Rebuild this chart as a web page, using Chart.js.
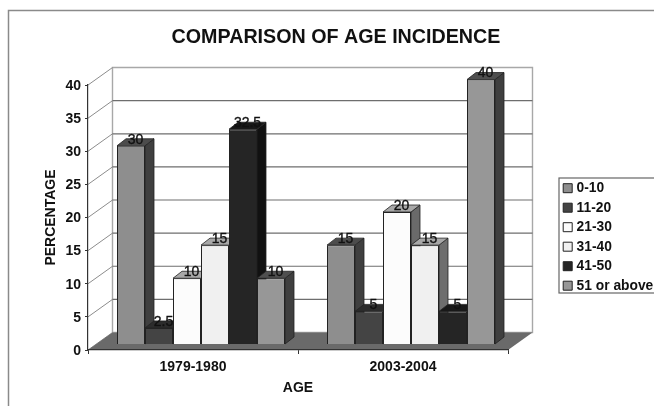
<!DOCTYPE html>
<html>
<head>
<meta charset="utf-8">
<script src="https://cdn.jsdelivr.net/npm/chart.js@4"></script>
<style>
  html, body { margin: 0; padding: 0; background: #fff; overflow: hidden; }
  canvas { display: block; }
</style>
</head>
<body>
<canvas id="chart" width="654" height="406"></canvas>
<script>
// data
const periods = ['1979-1980', '2003-2004']
const ageGroups = ['0-10', '11-20', '21-30', '31-40', '41-50', '51 or above']
const age0to10 = [30, 15]
const age11to20 = [2.5, 5]
const age21to30 = [10, 20]
const age31to40 = [15, 15]
const age41to50 = [32.5, 5]
const age51up = [10, 40]
const seriesValues = [age0to10, age11to20, age21to30, age31to40, age41to50, age51up]
const yTickStep = 5
const yMax = 40

// colours per series
const frontColors = ['#8e8e8e', '#444444', '#fcfcfc', '#f0f0f0', '#252525', '#979797']
const sideColors = ['#3f3f3f', '#262626', '#6a6a6a', '#6e6e6e', '#111111', '#3f3f3f']
const topColors = ['#4c4c4c', '#2c2c2c', '#a8a8a8', '#a8a8a8', '#181818', '#4f4f4f']

const FONT = '"Liberation Sans", Arial, sans-serif'
const INK = '#111111'

// 3D look: back wall offset, and where the bars stand on the floor
const wallDx = 24.5, wallDy = -17.5
const barDx = 8, barDy = -5.5
const depthDx = 9, depthDy = -7

function poly(ctx, pts, fill, stroke, lw) {
    ctx.beginPath()
    pts.forEach((p, i) => i ? ctx.lineTo(p[0], p[1]) : ctx.moveTo(p[0], p[1]))
    ctx.closePath()
    if (fill) { ctx.fillStyle = fill; ctx.fill() }
    if (stroke) { ctx.strokeStyle = stroke; ctx.lineWidth = lw || 1; ctx.stroke() }
}

const box3d = {
    id: 'box3d',
    afterLayout(chart) {
        // title is centred over the plot + legend gap, legend box sits lower right
        chart.titleBlock.left = 18
        chart.titleBlock.right = 654
        const l = chart.legend
        l.left = 560
        l.right = 654
        l.top = 175.6
        l.bottom = l.top + l.height
    },
    beforeDraw(chart) {
        const ctx = chart.ctx
        const { left, right } = chart.chartArea
        const y = chart.scales.y
        const y0 = y.getPixelForValue(0)
        const yTop = y.getPixelForValue(yMax)
        ctx.save()
        // outer frame
        ctx.strokeStyle = '#8a8a8a'
        ctx.lineWidth = 1.5
        ctx.beginPath()
        ctx.moveTo(8.5, 406)
        ctx.lineTo(8.5, 10.5)
        ctx.lineTo(654, 10.5)
        ctx.stroke()
        // legend frame
        ctx.strokeStyle = '#666666'
        ctx.lineWidth = 1.2
        ctx.strokeRect(559, 178, 100, 115)
        // walls
        poly(ctx, [[left + wallDx, yTop + wallDy], [right + wallDx, yTop + wallDy], [right + wallDx, y0 + wallDy], [left + wallDx, y0 + wallDy]], '#ffffff', '#a8a8a8', 1.4)
        // grid on back wall and left wall
        y.ticks.forEach(t => {
            const py = y.getPixelForValue(t.value)
            ctx.strokeStyle = '#8c8c8c'
            ctx.lineWidth = 1
            ctx.beginPath()
            ctx.moveTo(left, py)
            ctx.lineTo(left + wallDx, py + wallDy)
            ctx.stroke()
            if (t.value > 0 && t.value < yMax) {
                ctx.strokeStyle = '#6e6e6e'
                ctx.lineWidth = 1.2
                ctx.beginPath()
                ctx.moveTo(left + wallDx, py + wallDy)
                ctx.lineTo(right + wallDx, py + wallDy)
                ctx.stroke()
            }
        })
        // floor
        poly(ctx, [[left, y0], [right, y0], [right + wallDx, y0 + wallDy], [left + wallDx, y0 + wallDy]], '#6a6a6a')
        ctx.restore()
    },
    beforeDatasetsDraw(chart) {
        const ctx = chart.ctx
        // left to right so each bar covers the side of the one before it
        chart.data.datasets.forEach((ds, i) => {
            chart.getDatasetMeta(i).data.forEach(bar => {
                const x1 = bar.x - bar.width / 2 + barDx
                const x2 = bar.x + bar.width / 2 + barDx
                const top = bar.y + barDy
                const bottom = bar.base + barDy
                ctx.save()
                poly(ctx, [[x2, top], [x2 + depthDx, top + depthDy], [x2 + depthDx, bottom + depthDy], [x2, bottom]], sideColors[i], '#222222', 0.8)
                poly(ctx, [[x1, top], [x1 + depthDx, top + depthDy], [x2 + depthDx, top + depthDy], [x2, top]], topColors[i], '#222222', 0.8)
                ctx.translate(barDx, barDy)
                bar.draw(ctx)
                ctx.restore()
            })
        })
        // data labels on top of everything
        ctx.save()
        ctx.font = '14px ' + FONT
        ctx.fillStyle = INK
        ctx.strokeStyle = INK
        ctx.lineWidth = 0.35
        ctx.textAlign = 'center'
        ctx.textBaseline = 'middle'
        chart.data.datasets.forEach((ds, i) => {
            chart.getDatasetMeta(i).data.forEach((bar, j) => {
                const tx = bar.x + barDx + 4.5, ty = bar.y + barDy - 6
                ctx.fillText(String(ds.data[j]), tx, ty)
                ctx.strokeText(String(ds.data[j]), tx, ty)
            })
        })
        ctx.restore()
        return false
    }
}

new Chart(document.getElementById('chart'), {
    type: 'bar',
    data: {
        labels: periods,
        datasets: ageGroups.map((name, i) => ({
            label: name,
            data: seriesValues[i],
            backgroundColor: frontColors[i],
            borderColor: '#222222',
            borderWidth: 1,
            categoryPercentage: 0.8,
            barPercentage: 1
        }))
    },
    options: {
        responsive: false,
        animation: false,
        events: [],
        layout: { padding: { left: 42.6, right: 86, top: 0, bottom: 0 } },
        plugins: {
            title: {
                display: true,
                text: 'COMPARISON OF AGE INCIDENCE',
                color: INK,
                font: { family: FONT, size: 19.7, weight: 'bold' },
                padding: { top: 25.8, bottom: 35.6 }
            },
            legend: {
                position: 'right',
                align: 'start',
                maxWidth: 60,
                labels: {
                    color: INK,
                    font: { family: FONT, size: 13.8, weight: 'bold' },
                    usePointStyle: true,
                    pointStyle: 'rect',
                    boxWidth: 4,
                    boxHeight: 9,
                    padding: 5.7
                }
            },
            tooltip: { enabled: false }
        },
        scales: {
            x: {
                afterFit(s) { s.height = 56 },
                grid: { drawOnChartArea: false, tickLength: 4, color: '#333333' },
                border: { color: '#333333', width: 1.2 },
                ticks: { color: INK, padding: 4.5, maxRotation: 0, font: { family: FONT, size: 14, weight: 'bold' } },
                title: {
                    display: true,
                    text: 'AGE',
                    color: INK,
                    font: { family: FONT, size: 14, weight: 'bold' },
                    padding: { top: 0, bottom: 9.6 }
                }
            },
            y: {
                min: 0,
                max: yMax,
                afterFit(s) { s.width = 45.4 },
                grid: { drawOnChartArea: false, tickLength: 3, color: '#333333' },
                border: { color: '#333333', width: 1.2 },
                ticks: { stepSize: yTickStep, color: INK, padding: 4, labelOffset: 1, font: { family: FONT, size: 14, weight: 'bold' } },
                title: {
                    display: true,
                    text: 'PERCENTAGE',
                    color: INK,
                    font: { family: FONT, size: 14, weight: 'bold' },
                    padding: 0
                }
            }
        }
    },
    plugins: [box3d]
})
</script>
</body>
</html>
